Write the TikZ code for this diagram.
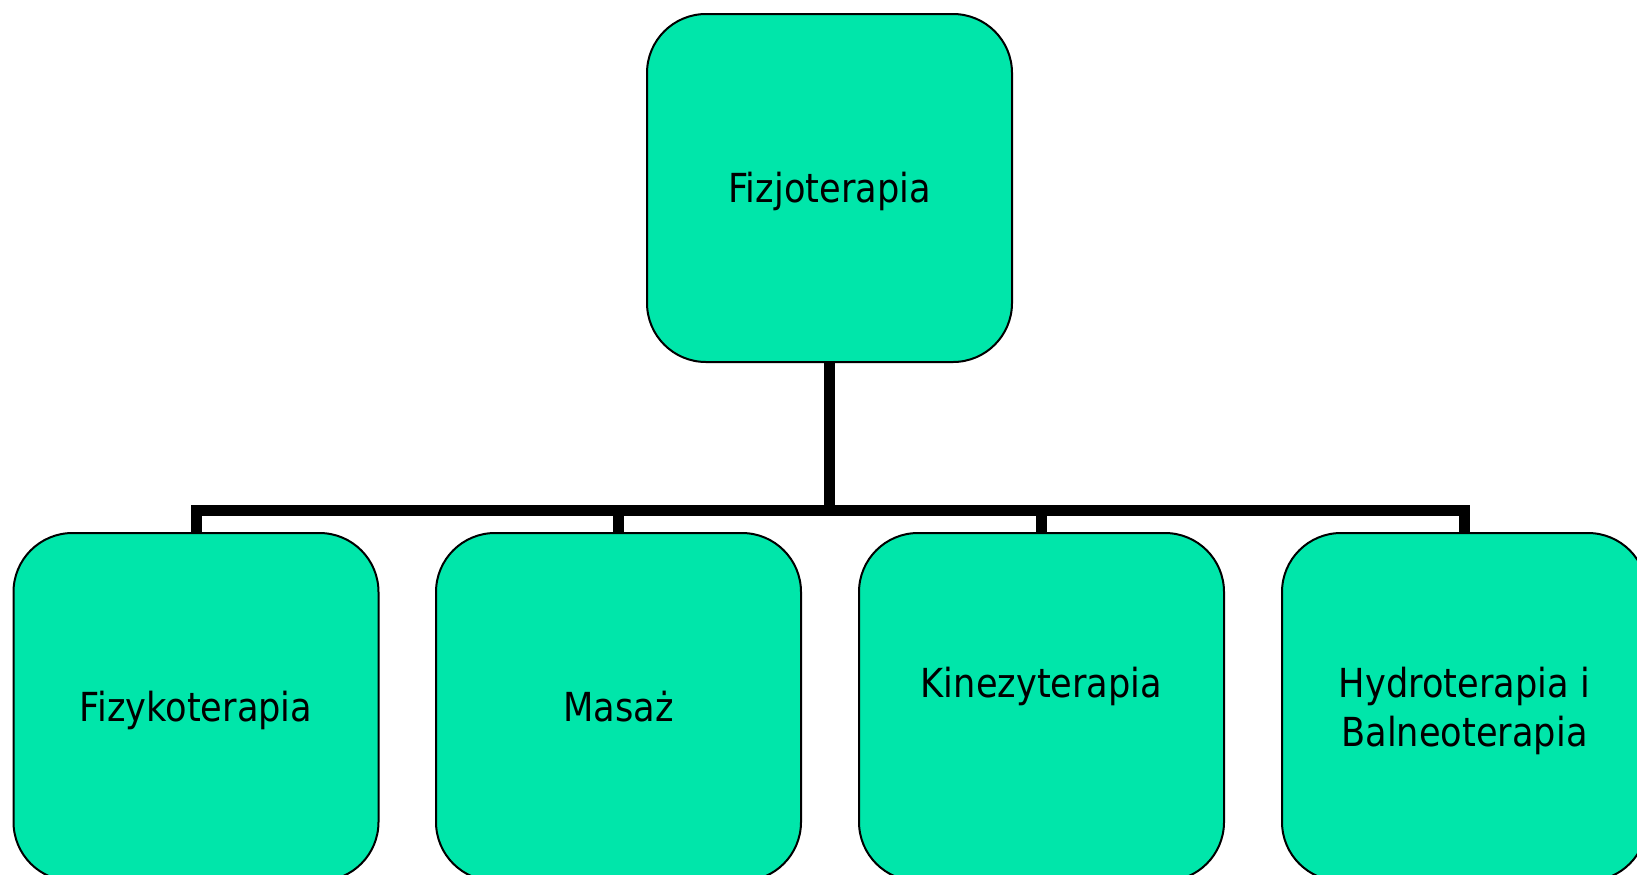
\documentclass[tikz,border=0pt]{standalone}
\usepackage{fontspec}
\setmainfont{DejaVu Sans}[FakeStretch=0.88]
\definecolor{boxgreen}{HTML}{00E6AA}
\newcommand\lstrut{\rule[-5pt]{0pt}{24.5pt}}
\begin{document}
\begin{tikzpicture}[x=0.5pt,y=-0.5pt,
  box/.style={draw=black, line width=1pt, fill=boxgreen, rounded corners=29.5pt,
    minimum width=182.5pt, minimum height=174pt, inner sep=0pt, align=center,
    font=\fontsize{20}{24.5}\selectfont},
  conn/.style={draw=black, line width=5.5pt, line join=miter}]
\useasboundingbox (0,0) rectangle (1637,874);
\clip (0,0) rectangle (1637,874);
\coordinate (bar) at (829.5,510);
\draw[conn] (829.5,362) -- (bar);
\draw[conn] (bar) -| (196,533);
\draw[conn] (bar) -| (618.5,533);
\draw[conn] (bar) -| (1041.5,533);
\draw[conn] (bar) -| (1464.5,533);
\node[box] (top) at (829.5,188) {\lstrut Fizjoterapia};
\node[box] (c1) at (196,707) {\lstrut Fizykoterapia};
\node[box] (c2) at (618.5,707) {\lstrut Masaż};
\node[box] (c3) at (1041.5,707) {\lstrut Kinezyterapia\\\lstrut};
\node[box] (c4) at (1464.5,707) {\lstrut Hydroterapia i~\\\lstrut Balneoterapia};
\end{tikzpicture}
\end{document}
